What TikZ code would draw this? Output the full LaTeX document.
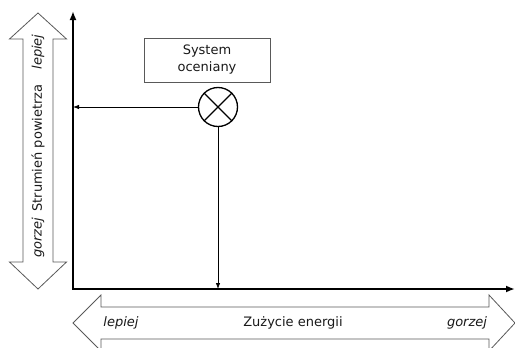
\documentclass[tikz,border=0pt]{standalone}
\usepackage{fontspec}
\setmainfont{DejaVu Sans}
\usepackage{tikz}
\usetikzlibrary{arrows.meta}

\tikzset{
  bigarrow/.style={draw=black!65, line width=0.8pt, fill=white},
  axisline/.style={line width=2pt, {Latex[length=9pt,width=7pt]}-{Latex[length=9pt,width=7pt]}},
  link/.style={line width=0.8pt, -{Latex[length=6pt,width=4.5pt]}},
  lbl/.style={inner sep=0.75pt, text=black!90, font=\fontsize{13}{15}\selectfont},
  side/.style={lbl, font=\fontsize{13}{15}\selectfont\itshape},
  sysbox/.style={draw=black!65, line width=0.8pt, minimum width=126pt, minimum height=44pt, align=center, inner sep=0pt, text=black!90, font=\fontsize{13}{17}\selectfont},
}

\begin{document}
\begin{tikzpicture}[x=1pt,y=1pt,yscale=-1,xscale=1]

\useasboundingbox (0,0) rectangle (515,348);

% double arrows along the axes
\draw[bigarrow] (38,13) -- (66.5,39) -- (53,39) -- (53,262) -- (66.5,262) -- (38,289) -- (9.5,262) -- (23,262) -- (23,39) -- (9.5,39) -- cycle ;

\draw[bigarrow] (73,323) -- (101,295) -- (101,307) -- (489,307) -- (489,295) -- (515,323) -- (489,351) -- (489,339) -- (101,339) -- (101,351) -- cycle ;

\node[side, rotate=90] (ylepiej) at (38,52) {lepiej};
\node[lbl, rotate=90] (ytitle) at (38,148) {Strumień powietrza};
\node[side, rotate=90] (ygorzej) at (38,238) {gorzej};

\node[side] (xlepiej) at (121,323) {lepiej};
\node[lbl] (xtitle) at (293,323) {Zużycie energii};
\node[side] (xgorzej) at (467,323) {gorzej};

% axes
\coordinate (O) at (73,289);
\coordinate (ytop) at (73,11);
\coordinate (xend) at (515,289);
\draw[axisline] (ytop) -- (O) -- (xend) ;

% assessed system
\node[sysbox] (sys) at (207,60) {System\\oceniany};

\node[circle, draw, line width=1.3pt, minimum size=39pt, inner sep=0pt] (oc) at (218,107) {};
\draw[line width=1.3pt] (oc.north west) -- (oc.south east) ;
\draw[line width=1.3pt] (oc.north east) -- (oc.south west) ;

\draw[link] (oc.west) -- (O |- oc.west) ;
\draw[link] (oc.south) -- (oc.south |- O) ;

\end{tikzpicture}
\end{document}
